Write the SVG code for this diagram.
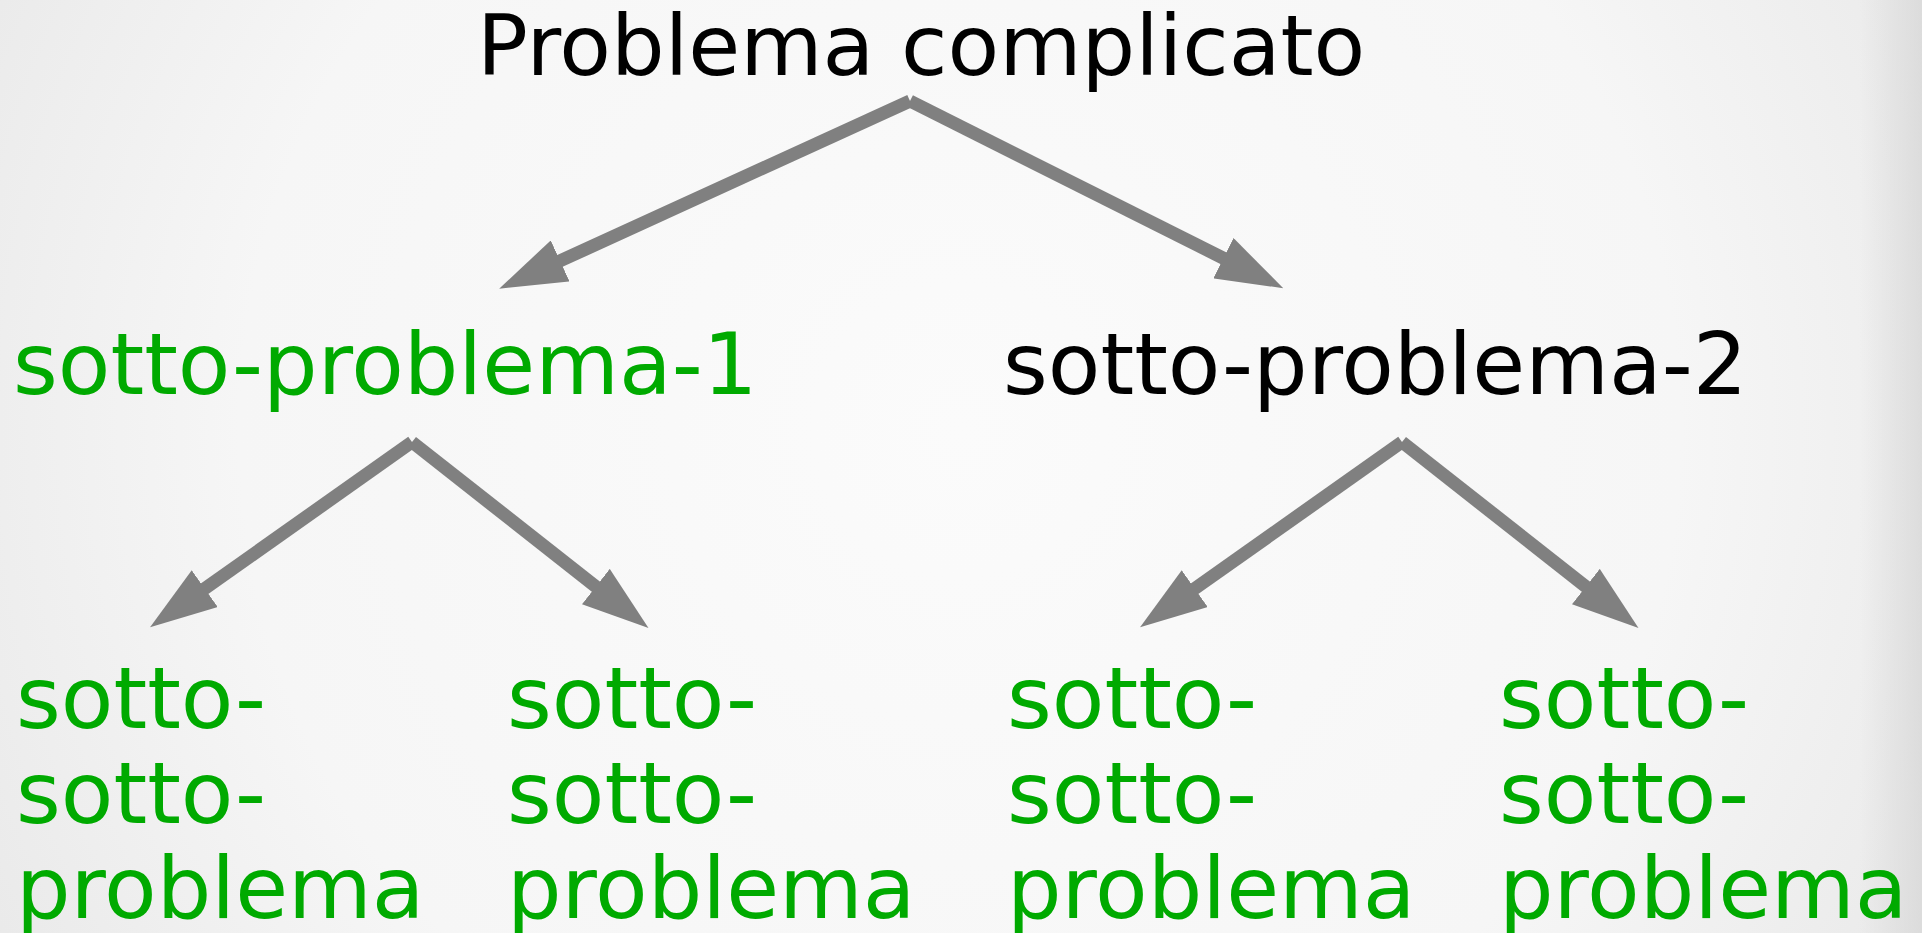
<svg xmlns="http://www.w3.org/2000/svg" width="1922" height="933" viewBox="0 0 1922 933">
  <defs>
    <radialGradient id="bg" gradientUnits="userSpaceOnUse" cx="960" cy="430" r="1200">
      <stop offset="0" stop-color="#fbfbfb"/>
      <stop offset="0.6" stop-color="#f6f6f6"/>
      <stop offset="1" stop-color="#e6e6e6"/>
    </radialGradient>
    <linearGradient id="rim" gradientUnits="userSpaceOnUse" x1="1860" y1="0" x2="1922" y2="0">
      <stop offset="0" stop-color="#d8d8d8" stop-opacity="0"/>
      <stop offset="1" stop-color="#d8d8d8" stop-opacity="0.8"/>
    </linearGradient>
    <marker id="head" viewBox="0 -22.5 67 45" refX="2" refY="0" markerWidth="67" markerHeight="45" markerUnits="userSpaceOnUse" orient="auto">
      <path d="M0,-22.5 L67,0 L0,22.5 Z" fill="#808080"/>
    </marker>
  </defs>
  <style>
    .t { font-family: "DejaVu Sans", Verdana, sans-serif; }
    .title { font-size: 84.5px; fill: #000000; }
    .sub { font-size: 86px; }
    .green { fill: #00aa00; }
    .black { fill: #000000; }
    .edge { stroke: #808080; stroke-width: 13; stroke-linecap: butt; fill: none; marker-end: url(#head); }
  </style>

  <rect x="0" y="0" width="1922" height="933" fill="url(#bg)"/>
  <rect x="1860" y="0" width="62" height="933" fill="url(#rim)"/>

  <!-- connectors -->
  <g id="connectors">
    <line class="edge" x1="910" y1="101" x2="558.3" y2="261.7"/>
    <line class="edge" x1="910" y1="101" x2="1225.2" y2="259.1"/>
    <line class="edge" x1="412" y1="442" x2="203.1" y2="589.8"/>
    <line class="edge" x1="412" y1="442" x2="597.4" y2="587.8"/>
    <line class="edge" x1="1402" y1="442" x2="1193.1" y2="589.8"/>
    <line class="edge" x1="1402" y1="442" x2="1587.4" y2="587.8"/>
  </g>

  <!-- root -->
  <g id="root">
    <text class="t title" x="477" y="75">Problema complicato</text>
  </g>

  <!-- first level -->
  <g id="sub1">
    <text class="t sub green" x="13" y="394">sotto-problema-1</text>
  </g>
  <g id="sub2">
    <text class="t sub black" x="1003" y="394">sotto-problema-2</text>
  </g>

  <!-- second level -->
  <g id="sub1a">
    <text class="t sub green" x="16" y="728">sotto-</text>
    <text class="t sub green" x="16" y="823">sotto-</text>
    <text class="t sub green" x="16" y="918">problema</text>
  </g>
  <g id="sub1b">
    <text class="t sub green" x="507" y="728">sotto-</text>
    <text class="t sub green" x="507" y="823">sotto-</text>
    <text class="t sub green" x="507" y="918">problema</text>
  </g>
  <g id="sub2a">
    <text class="t sub green" x="1007" y="728">sotto-</text>
    <text class="t sub green" x="1007" y="823">sotto-</text>
    <text class="t sub green" x="1007" y="918">problema</text>
  </g>
  <g id="sub2b">
    <text class="t sub green" x="1499" y="728">sotto-</text>
    <text class="t sub green" x="1499" y="823">sotto-</text>
    <text class="t sub green" x="1499" y="918">problema</text>
  </g>
</svg>
